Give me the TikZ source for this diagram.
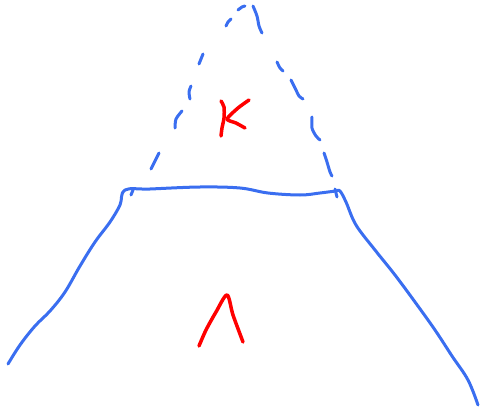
\documentclass[tikz,border=0pt]{standalone}
\definecolor{penblue}{RGB}{58,110,240}
\definecolor{penred}{RGB}{255,0,0}
\tikzset{
  bluepen/.style={draw=penblue,line width=3pt,line cap=round,line join=round},
  redpen/.style={draw=penred,line width=3.5pt,line cap=round,line join=round}
}
\begin{document}
\begin{tikzpicture}[x=1pt,y=-1pt]
\useasboundingbox (0,0) rectangle (483,415);
% solid trapezoid
\draw[bluepen] plot[smooth,tension=0.6] coordinates {(8,364) (20,345) (35,326) (50,311) (65,292) (80,266) (95,242) (110,222) (120,205) (125,190) (150,189) (200,187) (240,188) (268,193) (300,195) (320,193) (336,191) (340,191) (346,202) (356,225) (375,250) (395,275) (415,302) (435,330) (452,356) (468,380) (478,405)};
% small ticks
\draw[bluepen] (133,190) -- (131,195);
\draw[bluepen] (335,189) -- (337,197);
% dashed triangle (hand drawn dashes)
\draw[bluepen] plot[smooth] coordinates {(151,169) (155,161) (159,153)};
\draw[bluepen] plot[smooth] coordinates {(175,128) (176,119) (182,111)};
\draw[bluepen] plot[smooth] coordinates {(190,99) (189,92) (191,86)};
\draw[bluepen] plot[smooth] coordinates {(199,64) (201,59) (203,54)};
\draw[bluepen] plot[smooth] coordinates {(226,26) (228,22) (231,19)};
\draw[bluepen] plot[smooth] coordinates {(238,10) (242,7) (245,6)};
\draw[bluepen] plot[smooth] coordinates {(253,6) (257,16) (259,26) (262,33)};
\draw[bluepen] plot[smooth] coordinates {(277,62) (280,68) (283,71)};
\draw[bluepen] plot[smooth] coordinates {(291,80) (296,90) (299,96) (303,99)};
\draw[bluepen] plot[smooth] coordinates {(312,117) (312,128) (316,136) (320,140)};
\draw[bluepen] plot[smooth] coordinates {(324,153) (327,162) (330,172) (332,176)};
% kappa
\draw[redpen] plot[smooth] coordinates {(221,101) (224,107) (224,118) (222,128) (221,136)};
\draw[redpen] plot[smooth,tension=0.4] coordinates {(249,100) (238,108) (227,119) (236,123) (245,128)};
% Lambda
\draw[redpen] plot[smooth,tension=0.5] coordinates {(199,346) (206,330) (216,312) (227,295) (233,315) (243,342)};
\end{tikzpicture}
\end{document}
